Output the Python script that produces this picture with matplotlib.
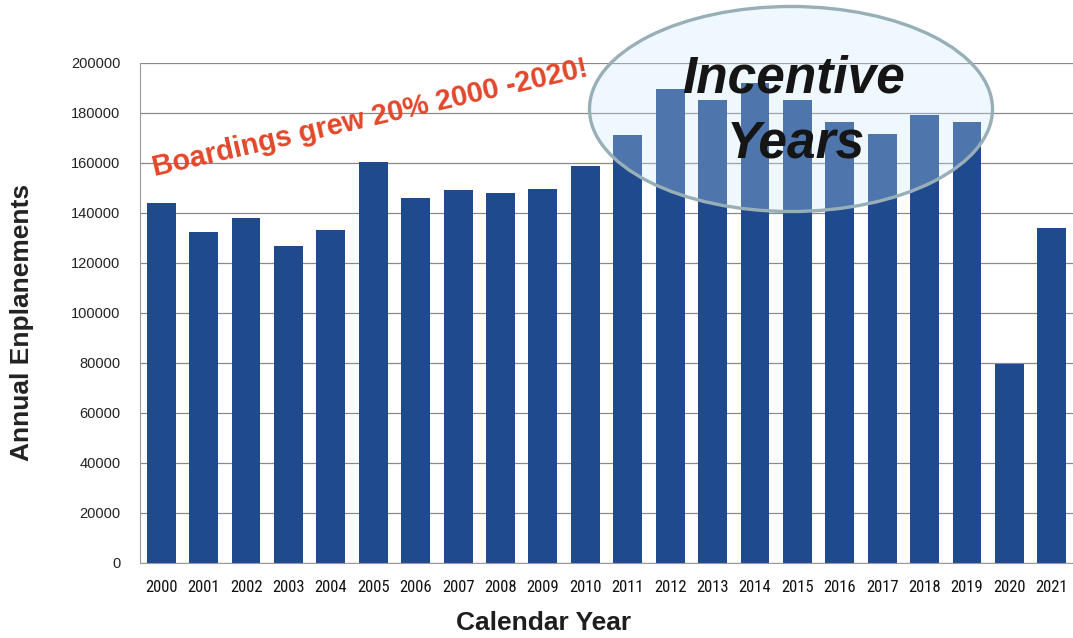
import matplotlib
matplotlib.use("Agg")
import matplotlib.pyplot as plt
from matplotlib import font_manager
from matplotlib.patches import Ellipse

years = [str(y) for y in range(2000, 2022)]
enplanements = [143800, 132500, 138000, 126800, 133200, 160500, 146000, 149000,
                148000, 149500, 158800, 171000, 189500, 185000, 192000, 185000,
                176500, 171500, 179000, 176500, 79500, 133800]
y_ticks = [0, 20000, 40000, 60000, 80000, 100000, 120000, 140000, 160000, 180000, 200000]

plt.rcParams['font.family'] = ['Liberation Sans', 'DejaVu Sans']

# Prefer a condensed face for the year labels when one is installed
installed = {f.name for f in font_manager.fontManager.ttflist}
narrow = None
for cand in ['Liberation Sans Narrow', 'Arial Narrow', 'DejaVu Sans Condensed',
             'Roboto Condensed', 'Open Sans Condensed']:
    if cand in installed:
        narrow = cand
        break
narrow_family = [narrow, 'Liberation Sans'] if narrow else ['Liberation Sans']
narrow_found = narrow is not None

fig = plt.figure(figsize=(10.73, 6.38), dpi=100)
ax = fig.add_axes([0.1305, 0.1176, 0.8695, 0.7837])

x = list(range(len(years)))
ax.bar(x, enplanements, width=0.68, color='#1f4a8e', zorder=2)

ax.set_xlim(-0.5, len(years) - 0.5)
ax.set_ylim(0, 200000)
ax.set_yticks(y_ticks)
ax.set_yticklabels([str(v) for v in y_ticks], fontsize=10.5, color='#222222')
ax.set_xticks(x)
ax.set_xticklabels(years, fontsize=12 if narrow_found else 10.5, color='#111111',
                   family=narrow_family)
ax.tick_params(axis='y', length=0, pad=14)
ax.tick_params(axis='x', length=0, pad=12)
ax.grid(axis='y', color='#8a8a8a', linewidth=0.9, zorder=0)
for side in ('top', 'right'):
    ax.spines[side].set_visible(False)
ax.spines['left'].set_color('#9a9a9a')
ax.spines['bottom'].set_color('#9a9a9a')

ax.set_ylabel('Annual Enplanements', fontsize=19, fontweight='bold',
              color='#222222')
ax.yaxis.set_label_coords((34 - 140) / 933, (563 - 322) / 500)
ax.set_xlabel('Calendar Year', fontsize=19, fontweight='bold', color='#1e1e1e')
ax.xaxis.set_label_coords((544 - 140) / 933, (563 - 611) / 500)

# Highlight around the incentive period
ell = Ellipse((791 / 1073, 1 - 109 / 638), 403 / 1073, 205 / 638,
              transform=fig.transFigure, facecolor=(0.8, 0.9, 1.0, 0.28),
              edgecolor='#98afb8', linewidth=2.4, zorder=5)
fig.patches.append(ell)

fig.text(794 / 1073, 1 - 79 / 638, 'Incentive', fontsize=37, fontweight='bold',
         style='italic', ha='center', va='center', color='#151515', zorder=6)
fig.text(796 / 1073, 1 - 144 / 638, 'Years', fontsize=37, fontweight='bold',
         style='italic', ha='center', va='center', color='#151515', zorder=6)

fig.text(370 / 1073, 1 - 118 / 638, 'Boardings grew 20% 2000 -2020!', fontsize=20.7,
         fontweight='bold', color='#e3472a', rotation=13, ha='center', va='center',
         rotation_mode='anchor', zorder=6)

fig.savefig('out.png', dpi=100, facecolor='white')
